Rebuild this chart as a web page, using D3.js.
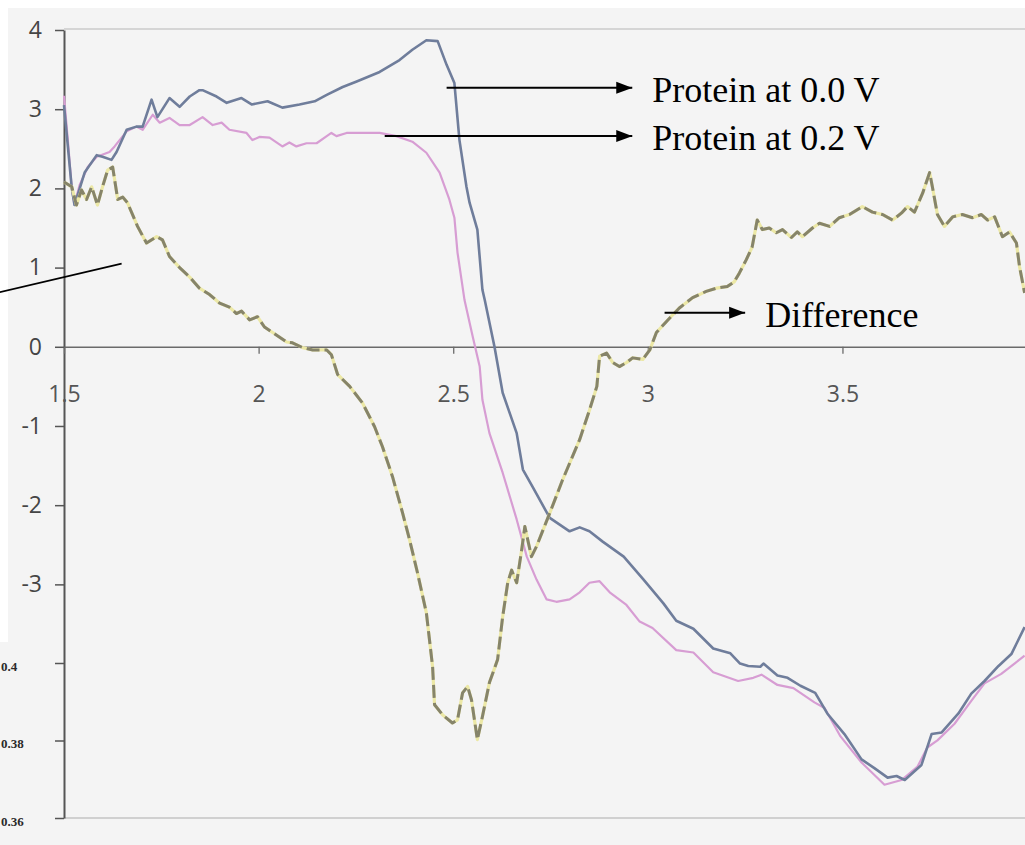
<!DOCTYPE html>
<html>
<head>
<meta charset="utf-8">
<script src="https://cdn.jsdelivr.net/npm/d3@7"></script>
<style>
  html, body { margin: 0; padding: 0; background: #f4f4f4; }
  svg { display: block; }
</style>
</head>
<body>
<svg id="chart" width="1025" height="845"></svg>
<script>
// Potential (V) vs. current traces, as [x, y] pairs
const protein00 = [
  [1.500,3.05],[1.520,2.00],[1.527,1.79],[1.553,2.20],[1.584,2.42],[1.599,2.40],[1.622,2.36],[1.635,2.46],
  [1.661,2.74],[1.686,2.78],[1.702,2.78],[1.725,3.12],[1.740,2.90],[1.771,3.14],[1.797,3.03],[1.823,3.16],
  [1.848,3.24],[1.856,3.24],[1.892,3.16],[1.918,3.08],[1.956,3.14],[1.982,3.06],[2.023,3.10],[2.061,3.02],
  [2.105,3.06],[2.144,3.10],[2.175,3.18],[2.216,3.28],[2.252,3.35],[2.311,3.47],[2.362,3.62],[2.395,3.75],
  [2.431,3.87],[2.460,3.86],[2.483,3.56],[2.503,3.33],[2.516,2.61],[2.534,2.02],[2.542,1.82],[2.562,1.48],
  [2.575,0.72],[2.581,0.59],[2.606,0.00],[2.627,-0.58],[2.663,-1.09],[2.679,-1.55],[2.704,-1.77],[2.748,-2.16],
  [2.799,-2.33],[2.825,-2.28],[2.850,-2.33],[2.884,-2.46],[2.938,-2.65],[2.989,-2.94],[3.040,-3.24],[3.073,-3.46],
  [3.117,-3.56],[3.168,-3.81],[3.212,-3.87],[3.237,-4.00],[3.258,-4.03],[3.289,-4.04],[3.297,-4.00],[3.333,-4.15],
  [3.359,-4.18],[3.392,-4.28],[3.430,-4.37],[3.461,-4.63],[3.505,-4.89],[3.549,-5.21],[3.582,-5.32],[3.616,-5.44],
  [3.639,-5.42],[3.660,-5.47],[3.703,-5.28],[3.729,-4.89],[3.755,-4.87],[3.798,-4.63],[3.831,-4.38],[3.865,-4.22],
  [3.901,-4.03],[3.934,-3.88],[3.968,-3.54]
];

const protein02 = [
  [1.500,3.17],[1.510,2.60],[1.520,2.00],[1.527,1.80],[1.540,2.04],[1.561,2.27],[1.584,2.40],[1.617,2.46],
  [1.630,2.53],[1.661,2.72],[1.686,2.78],[1.702,2.74],[1.728,2.93],[1.746,2.83],[1.771,2.89],[1.797,2.80],
  [1.823,2.80],[1.856,2.90],[1.882,2.80],[1.905,2.83],[1.925,2.74],[1.969,2.70],[1.984,2.61],[2.002,2.65],
  [2.028,2.64],[2.061,2.53],[2.079,2.58],[2.097,2.53],[2.123,2.57],[2.149,2.57],[2.175,2.66],[2.187,2.70],
  [2.200,2.66],[2.226,2.70],[2.277,2.70],[2.311,2.70],[2.354,2.66],[2.395,2.59],[2.431,2.45],[2.465,2.20],
  [2.490,1.86],[2.503,1.63],[2.511,1.19],[2.529,0.59],[2.550,0.13],[2.568,-0.25],[2.575,-0.67],[2.593,-1.09],
  [2.627,-1.59],[2.663,-2.18],[2.689,-2.65],[2.714,-2.94],[2.740,-3.19],[2.765,-3.22],[2.799,-3.19],[2.825,-3.10],
  [2.850,-2.98],[2.876,-2.96],[2.902,-3.10],[2.945,-3.26],[2.979,-3.47],[3.012,-3.55],[3.073,-3.83],[3.117,-3.86],
  [3.168,-4.11],[3.232,-4.22],[3.271,-4.18],[3.292,-4.14],[3.333,-4.27],[3.374,-4.31],[3.428,-4.49],[3.454,-4.56],
  [3.495,-4.92],[3.549,-5.25],[3.608,-5.53],[3.652,-5.47],[3.693,-5.30],[3.718,-5.06],[3.744,-4.97],[3.788,-4.76],
  [3.831,-4.47],[3.865,-4.25],[3.908,-4.13],[3.942,-4.00],[3.968,-3.90]
];

const difference = [
  [1.500,2.08],[1.520,2.02],[1.532,1.79],[1.545,1.98],[1.558,1.86],[1.571,2.02],[1.586,1.79],[1.599,2.02],
  [1.612,2.23],[1.625,2.27],[1.638,1.86],[1.651,1.89],[1.663,1.82],[1.689,1.52],[1.712,1.31],[1.738,1.39],
  [1.753,1.35],[1.771,1.14],[1.797,1.00],[1.823,0.88],[1.848,0.74],[1.874,0.66],[1.900,0.55],[1.925,0.50],
  [1.943,0.42],[1.956,0.45],[1.977,0.34],[1.997,0.38],[2.015,0.25],[2.036,0.18],[2.072,0.06],[2.087,0.05],
  [2.113,-0.01],[2.139,-0.04],[2.175,-0.04],[2.187,-0.10],[2.203,-0.35],[2.234,-0.50],[2.267,-0.71],[2.298,-1.01],
  [2.318,-1.26],[2.344,-1.64],[2.370,-2.10],[2.388,-2.44],[2.408,-2.85],[2.431,-3.36],[2.447,-4.04],[2.452,-4.52],
  [2.473,-4.65],[2.498,-4.75],[2.511,-4.71],[2.524,-4.37],[2.537,-4.29],[2.547,-4.46],[2.562,-4.96],[2.575,-4.67],
  [2.593,-4.24],[2.614,-3.95],[2.627,-3.41],[2.640,-2.98],[2.650,-2.82],[2.663,-2.98],[2.676,-2.56],[2.684,-2.27],
  [2.701,-2.65],[2.714,-2.52],[2.748,-2.10],[2.781,-1.68],[2.825,-1.17],[2.850,-0.80],[2.869,-0.50],[2.876,-0.12],
  [2.894,-0.08],[2.910,-0.20],[2.927,-0.25],[2.945,-0.20],[2.961,-0.14],[2.987,-0.16],[3.005,-0.04],[3.022,0.18],
  [3.048,0.32],[3.081,0.49],[3.115,0.62],[3.150,0.70],[3.176,0.74],[3.204,0.76],[3.222,0.82],[3.235,0.93],
  [3.253,1.10],[3.268,1.26],[3.281,1.60],[3.294,1.48],[3.312,1.50],[3.330,1.44],[3.346,1.48],[3.369,1.38],
  [3.384,1.45],[3.397,1.39],[3.423,1.50],[3.441,1.56],[3.467,1.52],[3.492,1.63],[3.518,1.67],[3.551,1.77],
  [3.577,1.70],[3.603,1.67],[3.629,1.60],[3.652,1.69],[3.667,1.77],[3.685,1.70],[3.706,1.94],[3.724,2.20],
  [3.731,2.02],[3.744,1.67],[3.762,1.52],[3.783,1.64],[3.808,1.67],[3.834,1.63],[3.857,1.67],[3.873,1.60],
  [3.891,1.64],[3.911,1.39],[3.929,1.45],[3.947,1.31],[3.955,1.01],[3.968,0.68]
];

// Axis ticks and labels
const xTicks = [1.5, 2, 2.5, 3, 3.5];
const xTickLabels = ["1.5", "2", "2.5", "3", "3.5"];
const yTicks = [4, 3, 2, 1, 0, -1, -2, -3];
const yTickLabels = ["4", "3", "2", "1", "0", "-1", "-2", "-3"];
// Second (lower) scale printed on the same axis line
const insetTicks = [0.40, 0.38, 0.36];
const insetTickLabels = ["0.4", "0.38", "0.36"];

// Callout annotations
const callouts = [
  { text: "Protein at 0.0 V", from: [2.483, 3.27], to: [2.960, 3.27] },
  { text: "Protein at 0.2 V", from: [2.324, 2.66], to: [2.960, 2.66] },
  { text: "Difference", from: [3.043, 0.43], to: [3.250, 0.43] }
];

const svg = d3.select("#chart");
const W = 1025, H = 845;
const plotLeft = 64, plotRight = 1025, plotTop = 30, plotBottom = 818;

const x = d3.scaleLinear().domain([1.5, 3.969]).range([plotLeft, plotRight]);
const y = d3.scaleLinear().domain([-5.95, 4]).range([plotBottom, plotTop]);
const yInset = d3.scaleLinear().domain([0.36, 0.40]).range([plotBottom, 663]);

// paper background: white margin strips around the grey scan
svg.append("rect").attr("width", W).attr("height", H).attr("fill", "#f4f4f4");
svg.append("rect").attr("x", 0).attr("y", 0).attr("width", W).attr("height", 8).attr("fill", "#ffffff");
svg.append("rect").attr("x", 0).attr("y", 0).attr("width", 8).attr("height", 642).attr("fill", "#ffffff");

// frame lines at top and bottom of the plot
svg.append("line").attr("x1", plotLeft).attr("x2", plotRight).attr("y1", plotTop - 1).attr("y2", plotTop - 1)
  .attr("stroke", "#cbcbcb").attr("stroke-width", 1.5);
svg.append("line").attr("x1", plotLeft).attr("x2", plotRight).attr("y1", plotBottom).attr("y2", plotBottom)
  .attr("stroke", "#c4c4c4").attr("stroke-width", 1.5);

const axisFont = "'Open Sans', 'DejaVu Sans', sans-serif";

// y axis
const yAxis = svg.append("g").attr("transform", `translate(${plotLeft},0)`)
  .call(d3.axisLeft(y).tickValues(yTicks).tickSize(9).tickSizeOuter(0).tickPadding(13)
    .tickFormat((d, i) => yTickLabels[i]));
yAxis.select(".domain").attr("stroke", "#555").attr("stroke-width", 2);
yAxis.selectAll(".tick line").attr("stroke", "#555").attr("stroke-width", 1.5);
yAxis.selectAll(".tick text").attr("font-family", axisFont).attr("font-size", 23).attr("fill", "#454545");

// lower inset scale labels
const yAxis2 = svg.append("g").attr("transform", `translate(${plotLeft},0)`)
  .call(d3.axisLeft(yInset).tickValues(insetTicks).tickSize(9)
    .tickFormat((d, i) => insetTickLabels[i]));
yAxis2.select(".domain").remove();
yAxis2.selectAll(".tick line").attr("stroke", "#555").attr("stroke-width", 1.5);
yAxis2.selectAll(".tick text")
  .attr("text-anchor", "start").attr("x", -63).attr("dy", "0.55em")
  .attr("font-family", "'Liberation Serif', 'Times New Roman', serif")
  .attr("font-weight", "bold").attr("font-size", 13).attr("fill", "#2a2a2a");

// x axis along y = 0
const xAxis = svg.append("g").attr("transform", `translate(0,${y(0)})`)
  .call(d3.axisBottom(x).tickValues(xTicks).tickSize(7).tickSizeOuter(0).tickPadding(32)
    .tickFormat((d, i) => xTickLabels[i]));
xAxis.select(".domain").attr("stroke", "#6a6a6a").attr("stroke-width", 1.6);
xAxis.selectAll(".tick line").attr("stroke", "#6a6a6a").attr("stroke-width", 1.3);
xAxis.selectAll(".tick text").attr("font-family", axisFont).attr("font-size", 23).attr("fill", "#555");

// traces
const line = d3.line().x(d => x(d[0])).y(d => y(d[1]));

svg.append("path").datum(protein02).attr("d", line)
  .attr("fill", "none").attr("stroke", "#d79dd3").attr("stroke-width", 2.2)
  .attr("stroke-linejoin", "round");
svg.append("path").datum(protein00).attr("d", line)
  .attr("fill", "none").attr("stroke", "#6f7d9b").attr("stroke-width", 2.6)
  .attr("stroke-linejoin", "round");

// difference: dark dashes over a pale yellow trace
svg.append("path").datum(difference).attr("d", line)
  .attr("fill", "none").attr("stroke", "#ece8a6").attr("stroke-width", 3.2)
  .attr("stroke-linejoin", "round");
svg.append("path").datum(difference).attr("d", line)
  .attr("fill", "none").attr("stroke", "#86846a").attr("stroke-width", 3)
  .attr("stroke-dasharray", "13,5").attr("stroke-linejoin", "round");

// arrow marker
const defs = svg.append("defs");
defs.append("marker").attr("id", "arrowhead")
  .attr("viewBox", "0 0 16 14").attr("refX", 16).attr("refY", 7)
  .attr("markerUnits", "userSpaceOnUse").attr("markerWidth", 16).attr("markerHeight", 14)
  .attr("orient", "auto")
  .append("path").attr("d", "M0,1 L16,7 L0,13 Z").attr("fill", "#000");

const labelFont = "'Liberation Serif', 'Times New Roman', serif";
callouts.forEach(c => {
  const x1 = x(c.from[0]), y1 = y(c.from[1]), x2 = x(c.to[0]);
  svg.append("line").attr("x1", x1).attr("y1", y1).attr("x2", x2).attr("y2", y1)
    .attr("stroke", "#000").attr("stroke-width", 2).attr("marker-end", "url(#arrowhead)");
  svg.append("text").attr("x", x2 + 20).attr("y", y1 + 14)
    .attr("font-family", labelFont).attr("font-size", 36).attr("fill", "#000")
    .text(c.text);
});

// pointer line running off the left edge
svg.append("line")
  .attr("x1", x(1.335)).attr("y1", y(0.69))
  .attr("x2", x(1.648)).attr("y2", y(1.05))
  .attr("stroke", "#000").attr("stroke-width", 1.6);
</script>
</body>
</html>
